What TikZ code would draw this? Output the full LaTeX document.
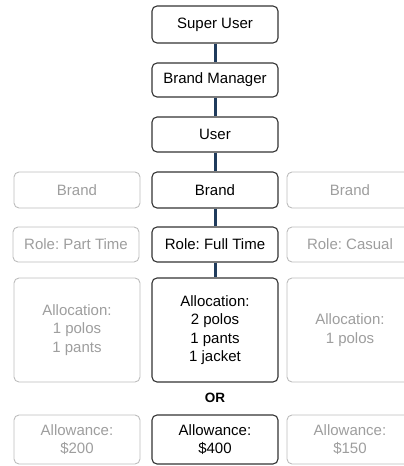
\documentclass[tikz,border=0pt]{standalone}
\usepackage{fontspec}
\setmainfont{Liberation Sans}
\frenchspacing
\definecolor{darkline}{HTML}{333333}
\definecolor{greyline}{HTML}{BDBDBD}
\definecolor{greytext}{HTML}{9E9E9E}
\definecolor{navy}{HTML}{1F3B5C}
\begin{document}
\begin{tikzpicture}[x=1pt,y=-1pt,
  box/.style={draw=darkline,line width=1.1pt,rounded corners=5pt,fill=white,
    minimum width=126pt,align=center,inner sep=0pt,
    font=\fontsize{15}{18.5}\selectfont,text=black},
  ghost/.style={box,draw=greyline,line width=0.9pt,text=greytext},
  link/.style={draw=navy,line width=3pt}]
\useasboundingbox (0,0) rectangle (404,466);
\clip (0,0) rectangle (404,466);
\node[box,minimum height=37pt] (su) at (215,24.5) {Super User};
\node[box,minimum height=34pt] (bm) at (215,80) {Brand Manager};
\node[box,minimum height=35pt] (us) at (215,134.5) {User};
\node[box,minimum height=36pt] (br) at (215,190) {Brand};
\node[box,minimum height=35pt] (ro) at (215,244.5) {Role: Full Time};
\node[box,minimum height=104pt] (al) at (215,330) {Allocation:\\2 polos\\1 pants\\1 jacket};
\node[font=\bfseries\fontsize{13.5}{15}\selectfont] (or) at (215,398) {OR};
\node[box,minimum height=49pt] (aw) at (215,439.5) {Allowance:\\\$400};
% connectors
\draw[link] (su.south) -- (bm.north);
\draw[link] (bm.south) -- (us.north);
\draw[link] (us.south) -- (br.north);
\draw[link] (br.south) -- (ro.north);
\draw[link] (ro.south) -- (al.north);
% left column
\node[ghost,minimum height=36pt] (lbr) at (77,190) {Brand};
\node[ghost,minimum height=35pt] (lro) at (76,244.5) {Role: Part Time};
\node[ghost,minimum height=104pt] (lal) at (77,330) {Allocation:\\1 polos\\1 pants};
\node[ghost,minimum height=49pt] (law) at (77,439.5) {Allowance:\\\$200};
% right column
\node[ghost,minimum height=36pt] (rbr) at (350,190) {Brand};
\node[ghost,minimum height=35pt] (rro) at (350,244.5) {Role: Casual};
\node[ghost,minimum height=104pt] (ral) at (350,330) {Allocation:\\1 polos};
\node[ghost,minimum height=49pt] (raw) at (350,439.5) {Allowance:\\\$150};
\end{tikzpicture}
\end{document}
